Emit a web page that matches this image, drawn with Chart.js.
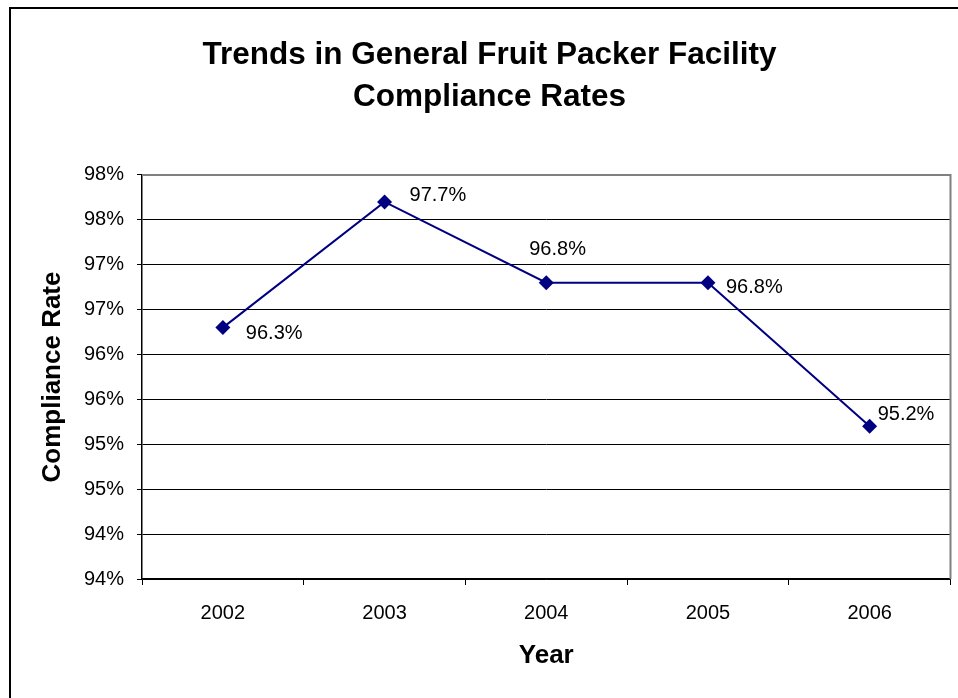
<!DOCTYPE html>
<html>
<head>
<meta charset="utf-8">
<script src="https://cdn.jsdelivr.net/npm/chart.js@4/dist/chart.umd.min.js"></script>
<style>
  html, body { margin: 0; padding: 0; background: white; }
  #wrap { width: 958px; height: 698px; }
</style>
</head>
<body>
<div id="wrap"><canvas id="grafico" width="958" height="698"></canvas></div>
<script>
// data
const years = ['2002', '2003', '2004', '2005', '2006']
const rates = [96.3, 97.7, 96.8, 96.8, 95.2]
const rateLabels = ['96.3%', '97.7%', '96.8%', '96.8%', '95.2%']
const tickLabels = ['94%', '94%', '95%', '95%', '96%', '96%', '97%', '97%', '98%', '98%']

// where each value label sits relative to its point (left edge, vertical middle)
const labelOffsets = [[23, 6], [25, -6], [-17, -33], [18, 5], [8, -12]]

const navy = '#000080'
Chart.defaults.font.family = 'Arial, "Liberation Sans", sans-serif'
Chart.defaults.color = 'black'

// white background + outer frame + grey top/right plot border
const frame = {
  id: 'frame',
  beforeDraw(chart) {
    const c = chart.ctx
    c.save()
    c.fillStyle = 'white'
    c.fillRect(0, 0, chart.width, chart.height)
    c.strokeStyle = 'black'
    c.lineWidth = 2
    c.beginPath()
    c.moveTo(10, chart.height)
    c.lineTo(10, 8)
    c.lineTo(chart.width, 8)
    c.stroke()
    c.restore()
  },
  beforeDatasetsDraw(chart) {
    const a = chart.chartArea
    const c = chart.ctx
    c.save()
    c.strokeStyle = '#808080'
    c.lineWidth = 2
    c.beginPath()
    c.moveTo(a.left, a.top)
    c.lineTo(a.right, a.top)
    c.lineTo(a.right, a.bottom)
    c.stroke()
    c.restore()
  }
}

// value labels next to the points
const valueLabels = {
  id: 'valueLabels',
  afterDatasetsDraw(chart) {
    const c = chart.ctx
    const pts = chart.getDatasetMeta(0).data
    c.save()
    c.font = '20px Arial, "Liberation Sans", sans-serif'
    c.fillStyle = 'black'
    c.textAlign = 'left'
    c.textBaseline = 'middle'
    pts.forEach((p, i) => {
      c.fillText(rateLabels[i], p.x + labelOffsets[i][0], p.y + labelOffsets[i][1])
    })
    c.restore()
  }
}

const ctx = document.getElementById('grafico')

const chart = new Chart(ctx, {
  type: 'line',
  data: {
    labels: years,
    datasets: [{
      data: rates,
      borderColor: navy,
      borderWidth: 2,
      backgroundColor: navy,
      pointStyle: 'rectRot',
      pointRadius: 7.5,
      pointBorderWidth: 0,
      tension: 0
    }]
  },
  options: {
    responsive: false,
    animation: false,
    layout: { padding: { left: 28, right: 7, top: 0, bottom: 0 } },
    plugins: {
      legend: { display: false },
      tooltip: { enabled: false },
      title: {
        display: true,
        text: ['Trends in General Fruit Packer Facility', 'Compliance Rates'],
        font: { size: 31.5, weight: 'bold', lineHeight: 1.333 },
        color: 'black',
        padding: { top: 34, bottom: 57 }
      }
    },
    scales: {
      x: {
        offset: true,
        grid: { display: true, drawOnChartArea: false, offset: true, tickLength: 6, color: 'black' },
        border: { color: 'black', width: 1.5 },
        ticks: { font: { size: 20 }, padding: 16, color: 'black' },
        title: { display: true, text: 'Year', font: { size: 26, weight: 'bold' }, color: 'black', padding: { top: 0, bottom: 27 } },
        afterFit(scale) { scale.height = 119 }
      },
      y: {
        min: 93.5,
        max: 98,
        grid: { color: 'black', tickLength: 5 },
        border: { color: 'black', width: 1.5 },
        ticks: {
          stepSize: 0.5,
          padding: 13,
          font: { size: 20 },
          color: 'black',
          callback: (v, i) => tickLabels[i]
        },
        title: { display: true, text: 'Compliance Rate', font: { size: 26, weight: 'bold' }, color: 'black', padding: { top: 9, bottom: 0 } },
        afterFit(scale) { scale.width = 114 }
      }
    }
  },
  plugins: [frame, valueLabels]
})
</script>
</body>
</html>
